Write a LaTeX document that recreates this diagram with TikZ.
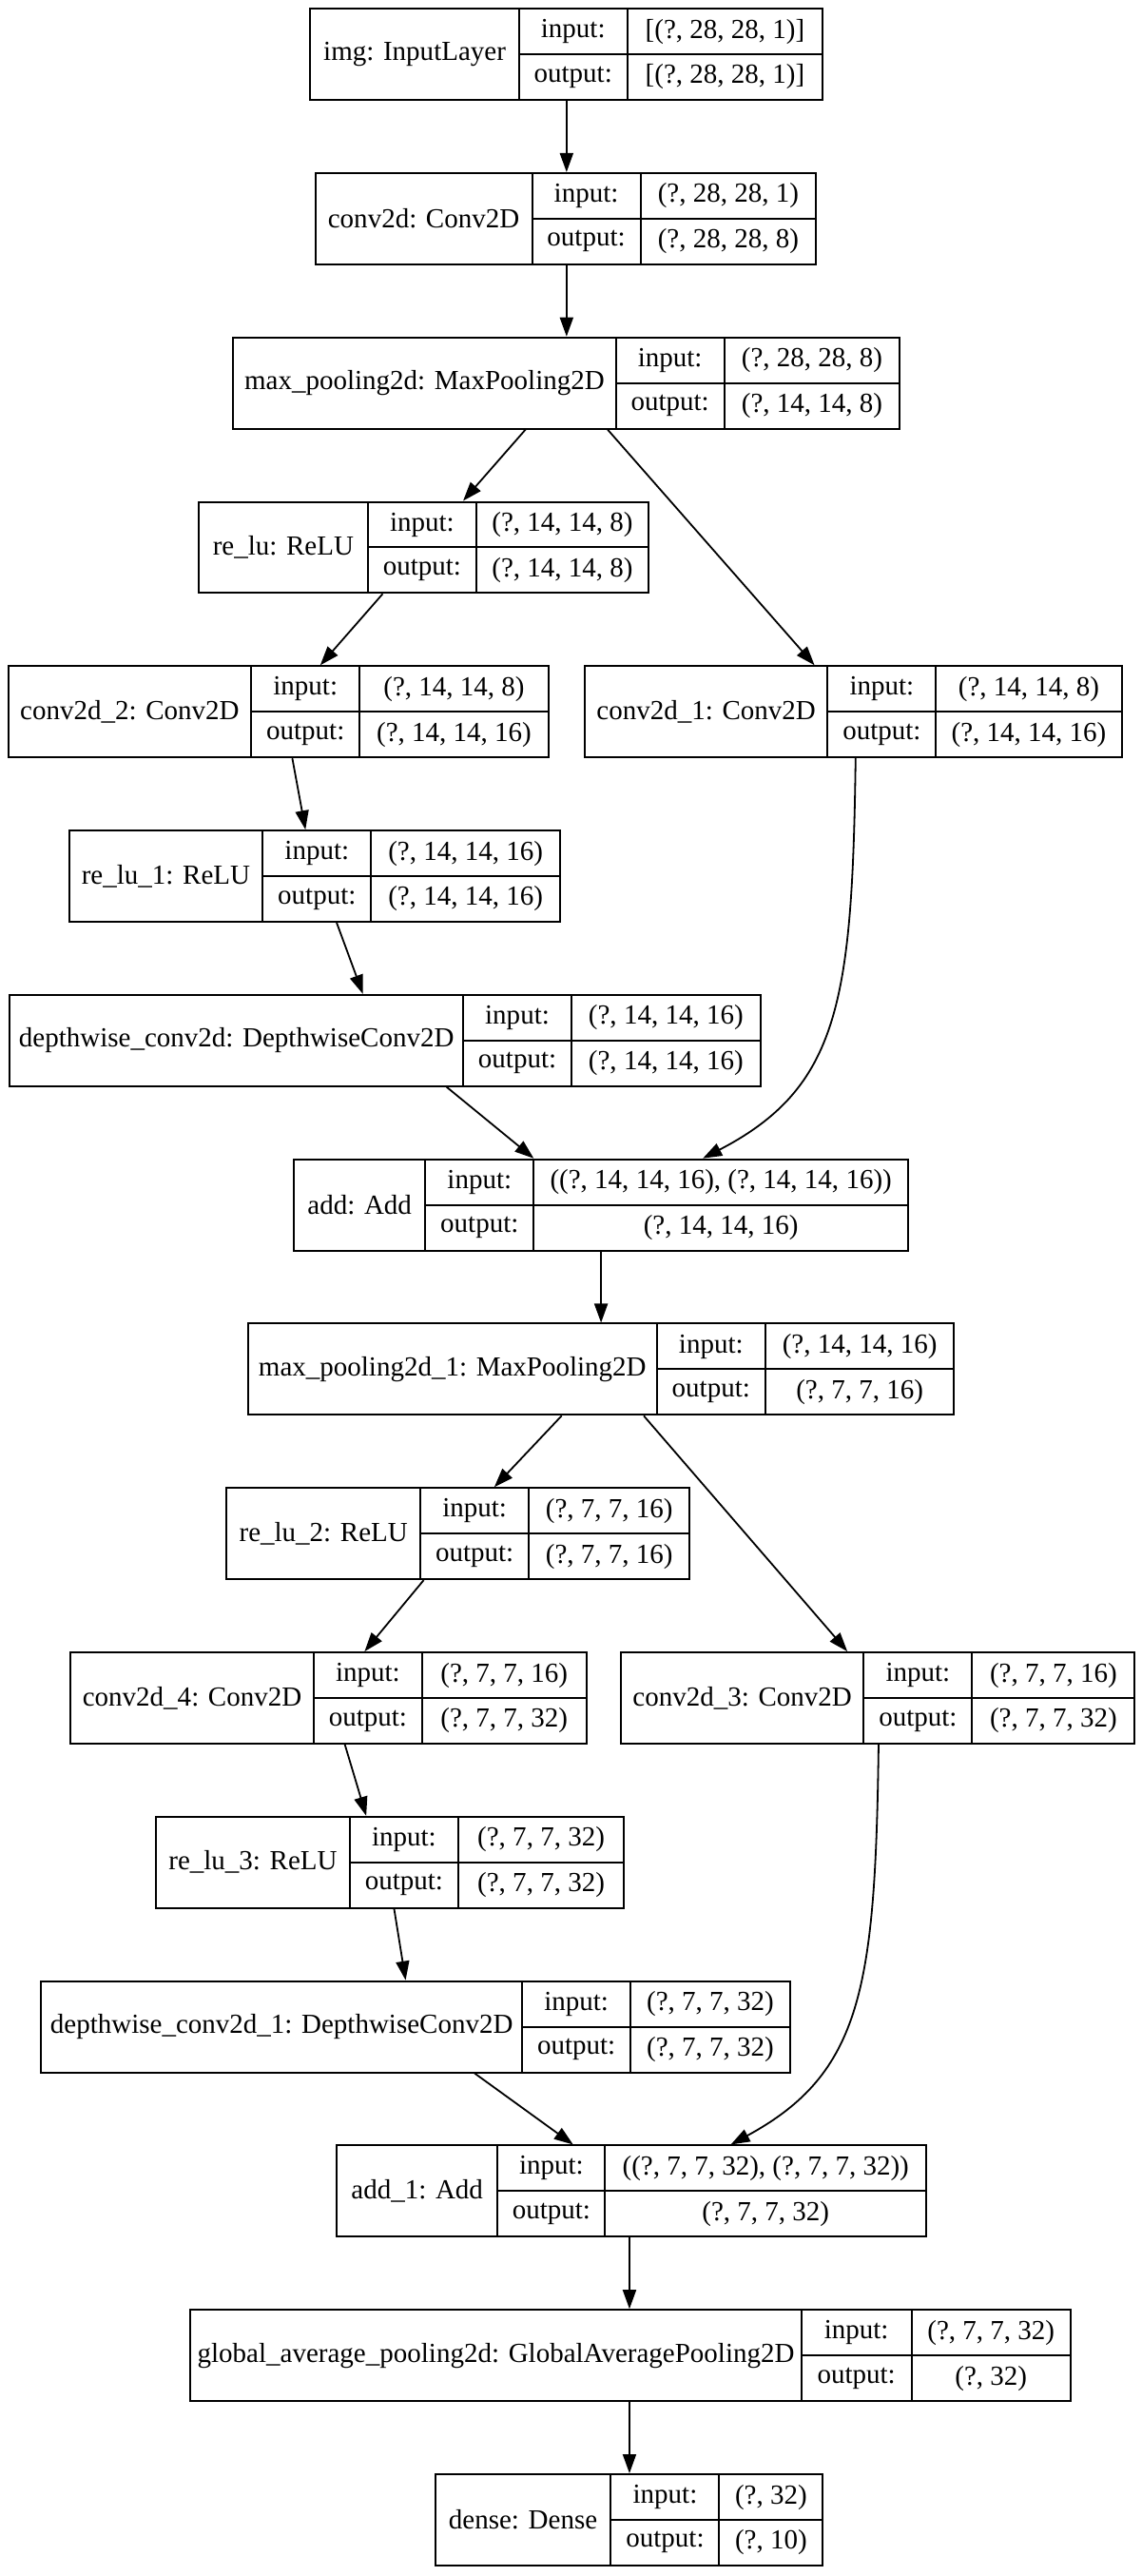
\documentclass[tikz,border=0pt]{standalone}
\usepackage{fontspec}
\setmainfont{Liberation Serif}
\usetikzlibrary{arrows.meta}
\tikzset{
  recbox/.style={draw, line width=1pt, inner sep=0pt},
  cellline/.style={line width=1pt},
  txt/.style={inner sep=0pt, font=\fontsize{14.5}{17}\selectfont},
  edge/.style={line width=0.9pt, -{Triangle[length=10pt,width=7pt]}},
}
% name, x1, x2, top, xa, xb, label, input, output
\newcommand{\layer}[9]{%
  \pgfmathsetmacro{\Lb}{#4+55.5}%
  \pgfmathsetmacro{\Lm}{#4+27.75}%
  \pgfmathsetmacro{\Li}{#4+13.9}%
  \pgfmathsetmacro{\Lo}{#4+41.6}%
  \node[recbox, minimum width={(#3-#2)*0.8633pt}, minimum height={55.5*0.8633pt}] (#1) at ({(#2+#3)/2},\Lm) {};
  \draw[cellline] (#5,#4) -- (#5,\Lb) (#6,#4) -- (#6,\Lb) (#5,\Lm) -- (#3,\Lm);
  \node[txt] (#1-l) at ({(#2+#5)/2},\Lm) {#7};
  \node[txt] (#1-ik) at ({(#5+#6)/2},\Li) {input:};
  \node[txt] (#1-ok) at ({(#5+#6)/2},\Lo) {output:};
  \node[txt] (#1-iv) at ({(#6+#3)/2},\Li) {#8};
  \node[txt] (#1-ov) at ({(#6+#3)/2},\Lo) {#9};
}
\begin{document}
\begin{tikzpicture}[x=0.8633pt,y=-0.8633pt]
\useasboundingbox[fill=white] (0,0) rectangle (695,1568);

\layer{img}{189}{501}{5.3}{316}{382}{img: InputLayer}{[(?, 28, 28, 1)]}{[(?, 28, 28, 1)]}
\layer{cv}{192}{497}{105.35}{324}{390}{conv2d: Conv2D}{(?, 28, 28, 1)}{(?, 28, 28, 8)}
\layer{mp}{142}{548}{205.4}{375}{441}{max\_pooling2d: MaxPooling2D}{(?, 28, 28, 8)}{(?, 14, 14, 8)}
\layer{relu}{121}{395}{305.45}{224}{290}{re\_lu: ReLU}{(?, 14, 14, 8)}{(?, 14, 14, 8)}
\layer{cvb}{5}{334}{405.5}{153}{219}{conv2d\_2: Conv2D}{(?, 14, 14, 8)}{(?, 14, 14, 16)}
\layer{cva}{356}{683}{405.5}{504}{570}{conv2d\_1: Conv2D}{(?, 14, 14, 8)}{(?, 14, 14, 16)}
\layer{reluA}{42}{341}{505.55}{160}{226}{re\_lu\_1: ReLU}{(?, 14, 14, 16)}{(?, 14, 14, 16)}
\layer{dw}{6}{463}{605.6}{282}{348}{depthwise\_conv2d: DepthwiseConv2D}{(?, 14, 14, 16)}{(?, 14, 14, 16)}
\layer{add}{179}{553}{705.65}{259}{325}{add: Add}{((?, 14, 14, 16), (?, 14, 14, 16))}{(?, 14, 14, 16)}
\layer{mpa}{151}{581}{805.7}{400}{466}{max\_pooling2d\_1: MaxPooling2D}{(?, 14, 14, 16)}{(?, 7, 7, 16)}
\layer{reluB}{138}{420}{905.75}{256}{322}{re\_lu\_2: ReLU}{(?, 7, 7, 16)}{(?, 7, 7, 16)}
\layer{cvd}{43}{357}{1005.8}{191}{257}{conv2d\_4: Conv2D}{(?, 7, 7, 16)}{(?, 7, 7, 32)}
\layer{cvc}{378}{691}{1005.8}{526}{592}{conv2d\_3: Conv2D}{(?, 7, 7, 16)}{(?, 7, 7, 32)}
\layer{reluC}{95}{380}{1105.85}{213}{279}{re\_lu\_3: ReLU}{(?, 7, 7, 32)}{(?, 7, 7, 32)}
\layer{dwa}{25}{481}{1205.9}{318}{384}{depthwise\_conv2d\_1: DepthwiseConv2D}{(?, 7, 7, 32)}{(?, 7, 7, 32)}
\layer{adda}{205}{564}{1305.95}{303}{368.5}{add\_1: Add}{((?, 7, 7, 32), (?, 7, 7, 32))}{(?, 7, 7, 32)}
\layer{gap}{116}{652}{1406}{488}{555}{global\_average\_pooling2d: GlobalAveragePooling2D}{(?, 7, 7, 32)}{(?, 32)}
\layer{dense}{265}{501}{1506.05}{372}{438}{dense: Dense}{(?, 32)}{(?, 10)}

\draw[edge] (img.south -| 345,0) -- (cv.north -| 345,0);
\draw[edge] (cv.south -| 345,0) -- (mp.north -| 345,0);
\draw[edge] (mp.south -| 320,0) -- (relu.north -| 282,0);
\draw[edge] (mp.south -| 370,0) -- (cva.north -| 496,0);
\draw[edge] (relu.south -| 233,0) -- (cvb.north -| 195,0);
\draw[edge] (cvb.south -| 178,0) -- (reluA.north -| 186,0);
\draw[edge] (reluA.south -| 205,0) -- (dw.north -| 221,0);
\draw[edge] (dw.south -| 272,0) -- (add.north -| 325,0);
\draw[edge] (cva.south -| 521,0) .. controls (519,610) and (511,662) .. (add.north -| 428,0);
\draw[edge] (add.south -| 366,0) -- (mpa.north -| 366,0);
\draw[edge] (mpa.south -| 342,0) -- (reluB.north -| 301,0);
\draw[edge] (mpa.south -| 392,0) -- (cvc.north -| 516,0);
\draw[edge] (reluB.south -| 258,0) -- (cvd.north -| 222,0);
\draw[edge] (cvd.south -| 210,0) -- (reluC.north -| 223,0);
\draw[edge] (reluC.south -| 240,0) -- (dwa.north -| 247,0);
\draw[edge] (dwa.south -| 289,0) -- (adda.north -| 349,0);
\draw[edge] (cvc.south -| 535,0) .. controls (533,1210) and (525,1262) .. (adda.north -| 445,0);
\draw[edge] (adda.south -| 383.3,0) -- (gap.north -| 383.3,0);
\draw[edge] (gap.south -| 383.3,0) -- (dense.north -| 383.3,0);
\end{tikzpicture}
\end{document}
